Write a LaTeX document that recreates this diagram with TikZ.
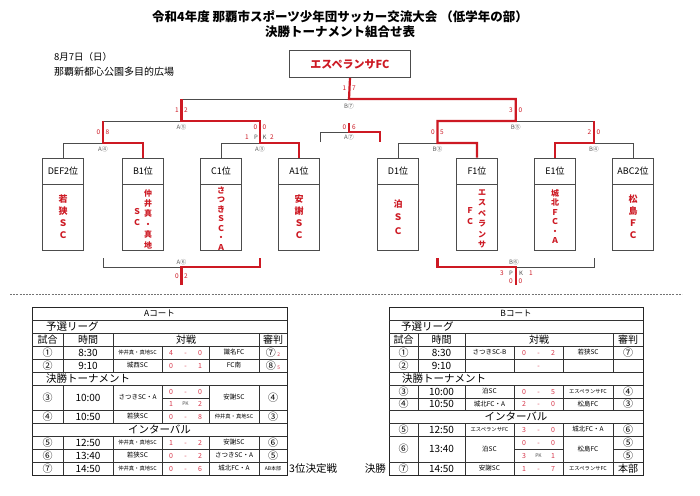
\documentclass[tikz,border=0pt]{standalone}
\usepackage{fontspec}
\setmainfont{Noto Sans CJK JP}
\definecolor{wred}{RGB}{205,25,35}
\definecolor{sred}{RGB}{215,55,75}
\newcommand\tsm{\fontsize{5.3}{5.3}\selectfont}
\newcommand\mrow[9]{%
 \node[num] (#1n) at (\ca,#2) {#3};
 \node[tm] (#1t) at (\cb,#2) {#4};
 \node[tn] (#1a) at (\cc,#2) {#5};
 \node[sr] (#1s) at ({\cd-14.5},#2) {#6};
 \node[sr] (#1d) at (\cd,#2) {-};
 \node[sr] (#1r) at ({\cd+14.5},#2) {#7};
 \node[tn] (#1b) at (\ce,#2) {#8};
 \node[num] (#1j) at (\cf,#2) {#9};}
\begin{document}
\begin{tikzpicture}[x=1pt,y=-1pt,
  blk/.style={draw=black!70, line width=0.7pt},
  win/.style={draw=wred, line width=2.2pt},
  lbl/.style={font=\fontsize{6}{6}\selectfont, text=black!65, inner sep=0pt},
  scr/.style={font=\fontsize{6.5}{6.5}\selectfont, text=wred, inner sep=0pt},
  pk/.style={font=\fontsize{6}{6}\selectfont, text=black!70, inner sep=0pt},
  hbox/.style={draw=black!70, line width=0.7pt, minimum width=41pt, minimum height=26pt, inner sep=0pt, font=\fontsize{9}{9}\selectfont},
  bbox/.style={draw=black!70, line width=0.7pt, minimum width=41pt, minimum height=66pt, inner sep=0pt},
  vt/.style={align=center, text=wred, inner sep=0pt},
  tbl/.style={draw=black!80, line width=0.6pt},
  tout/.style={draw=black!85, line width=1pt},
  num/.style={font=\fontsize{10}{10}\selectfont, inner sep=0pt},
  tm/.style={font=\fontsize{10}{10}\selectfont, inner sep=0pt},
  tn/.style={font=\fontsize{6.5}{6.5}\selectfont, inner sep=0pt},
  sr/.style={font=\fontsize{7}{7}\selectfont, text=sred, inner sep=0pt, text height=5pt, text depth=0pt},
  sec/.style={font=\fontsize{10.5}{10.5}\selectfont, inner sep=0pt},
  hd/.style={font=\fontsize{10}{10}\selectfont, inner sep=0pt},
  ct/.style={font=\fontsize{8.5}{8.5}\selectfont, inner sep=0pt}
]
\useasboundingbox[fill=white] (0,0) rectangle (700,495);

% titles
\node[font=\bfseries\fontsize{12.5}{12.5}\selectfont, inner sep=0pt] (title1) at (340,17) {令和4年度 那覇市スポーツ少年団サッカー交流大会 （低学年の部）};
\node[font=\bfseries\fontsize{12.5}{12.5}\selectfont, inner sep=0pt] (title2) at (340,32) {決勝トーナメント組合せ表};
\node[font=\fontsize{9.5}{9.5}\selectfont, inner sep=0pt, anchor=west] (date) at (54,57) {8月7日（日）};
\node[font=\fontsize{10}{10}\selectfont, inner sep=0pt, anchor=west] (venue) at (54,72) {那覇新都心公園多目的広場};

% champion
\node[draw=black!70, line width=0.7pt, minimum width=121pt, minimum height=27pt, inner sep=0pt, text=wred, font=\bfseries\fontsize{11}{11}\selectfont] (champ) at (350,64) {エスペランサFC};

% team boxes
\foreach \n/\x/\t in {b1/63/DEF2位, b2/143/B1位, b3/221/C1位, b4/299/A1位, b5/398/D1位, b6/477/F1位, b7/555/E1位, b8/633/ABC2位}{
  \node[hbox] (\n) at (\x,171) {\t};
  \node[bbox] (\n body) at (\x,217) {};
}
\node[vt, font=\bfseries\fontsize{9}{12}\selectfont] (v1) at (63,217) {若\\狭\\Ｓ\\Ｃ};
\node[vt, font=\bfseries\fontsize{8}{10.4}\selectfont] (v2r) at (148,219) {仲\\井\\真\\・\\真\\地};
\node[vt, font=\bfseries\fontsize{8}{10.4}\selectfont] (v2l) at (137,217) {Ｓ\\Ｃ};
\node[vt, font=\bfseries\fontsize{8}{9.5}\selectfont] (v3) at (221,218.5) {さ\\つ\\き\\Ｓ\\Ｃ\\・\\Ａ};
\node[vt, font=\bfseries\fontsize{9}{12}\selectfont] (v4) at (299,217) {安\\謝\\Ｓ\\Ｃ};
\node[vt, font=\bfseries\fontsize{9}{13.5}\selectfont] (v5) at (398,217) {泊\\Ｓ\\Ｃ};
\node[vt, font=\bfseries\fontsize{8}{10.4}\selectfont] (v6r) at (482,219) {エ\\ス\\ペ\\ラ\\ン\\サ};
\node[vt, font=\bfseries\fontsize{8}{10.4}\selectfont] (v6l) at (470,216) {Ｆ\\Ｃ};
\node[vt, font=\bfseries\fontsize{8}{9.4}\selectfont] (v7) at (555,216.5) {城\\北\\Ｆ\\Ｃ\\・\\Ａ};
\node[vt, font=\bfseries\fontsize{9}{12}\selectfont] (v8) at (633,217) {松\\島\\Ｆ\\Ｃ};

% bracket coordinates
\coordinate (fin) at (349,99);
\coordinate (finL) at (181.5,99);
\coordinate (finR) at (515.75,99);
\coordinate (sA) at (181.5,121);
\coordinate (sAL) at (103,121);
\coordinate (sAR) at (260,121);
\coordinate (sB) at (515.75,121);
\coordinate (sBL) at (437.5,121);
\coordinate (sBR) at (594,121);
\coordinate (qA4) at (103,143);
\coordinate (qA3) at (260,143);
\coordinate (qB3) at (437.5,143);
\coordinate (qB4) at (594,143);

% losing paths
\draw[blk] (finL) -- (fin);
\draw[blk] (sAL) -- (sA);
\draw[blk] (b1.north) |- (qA4);
\draw[blk] (b3.north) |- (qA3);
\draw[blk] (sB) -- (sBR);
\draw[blk] (b5.north) |- (qB3);
\draw[blk] (b8.north) |- (qB4);
% winning paths
\draw[win] (champ.south) -- (fin) -- (finR) -- (sB) -- (sBL) -- (qB3) -| (b6.north);
\draw[win] (finL) -- (sA) -- (sAR) -- (qA3) -| (b4.north);
\draw[win] (sAL) -- (qA4) -| (b2.north);
\draw[win] (sBR) -- (qB4) -| (b7.north);

% third place mini bracket
\coordinate (t) at (349,132);
\coordinate (tT) at (349,123);
\coordinate (tL) at (320,142);
\coordinate (tR) at (380,142);
\draw[blk] (tL) |- (t);
\draw[win] (tT) -- (t) -| (tR);

% bracket labels
\node[scr] (f1) at (344.5,88) {1};
\node[scr] (f2) at (354,88) {7};
\node[lbl] (lB7) at (349,106) {B⑦};
\node[scr] (a51) at (177,110) {1};
\node[scr] (a52) at (186,110) {2};
\node[scr] (b51) at (511,110) {3};
\node[scr] (b52) at (520.5,110) {0};
\node[lbl] (lA5) at (181.5,127) {A⑤};
\node[lbl] (lB5) at (515.75,127) {B⑤};
\node[scr] (a41) at (98.5,132) {0};
\node[scr] (a42) at (107.5,132) {8};
\node[scr] (a31) at (255.5,127) {0};
\node[scr] (a32) at (264.5,127) {0};
\node[scr] (a3p1) at (247,137) {1};
\node[pk] (a3pp) at (256,137) {P};
\node[pk] (a3pk) at (264.5,137) {K};
\node[scr] (a3p2) at (272,137) {2};
\node[scr] (b31) at (433,132) {0};
\node[scr] (b32) at (442,132) {5};
\node[scr] (b41) at (589.5,132) {2};
\node[scr] (b42) at (598.5,132) {0};
\node[scr] (a71) at (344.5,127) {0};
\node[scr] (a72) at (354,127) {6};
\node[lbl] (lA7) at (349,137.5) {A⑦};
\node[lbl] (lA4) at (103,149) {A④};
\node[lbl] (lA3) at (260,149) {A③};
\node[lbl] (lB3) at (437.5,149) {B③};
\node[lbl] (lB4) at (594,149) {B④};

% bottom brackets
\coordinate (a6) at (181.5,267);
\coordinate (a6L) at (103,258);
\coordinate (a6R) at (260,258);
\coordinate (a6D) at (181.5,285);
\draw[blk] (a6L) |- (a6);
\draw[win] (a6D) -- (a6) -| (a6R);
\node[lbl] (lA6) at (181.5,262) {A⑥};
\node[scr] (a61) at (177,276) {0};
\node[scr] (a62) at (186,276) {2};

\coordinate (b6c) at (515.75,267);
\coordinate (b6L) at (437.5,258);
\coordinate (b6R) at (594,258);
\coordinate (b6D) at (515.75,285);
\draw[blk] (b6R) |- (b6c);
\draw[win] (b6D) -- (b6c) -| (b6L);
\node[lbl] (lB6) at (514,262) {B⑥};
\node[scr] (b6p1) at (502,273) {3};
\node[pk] (b6pp) at (511,273) {P};
\node[pk] (b6pk) at (521,273) {K};
\node[scr] (b6p2) at (531,273) {1};
\node[scr] (b61) at (511,281) {0};
\node[scr] (b62) at (520.5,281) {0};

% separator
\coordinate (dotL) at (10,294);
\coordinate (dotR) at (682,294);
\draw[black!55, line width=0.8pt, dash pattern=on 2pt off 1.2pt] (dotL) -- (dotR);

% ===== A table =====
\draw[tout] (32,307) rectangle (287,475);
\foreach \y in {320,333,346,359,372,385,410,423,436,449,462} \draw[tbl] (32,\y) -- (287,\y);
\draw[tbl] (162,398) -- (209,398);
\foreach \x in {63,113,259} \draw[tbl] (\x,333) -- (\x,346);
\foreach \x in {63,113,162,209,259} {
  \draw[tbl] (\x,346) -- (\x,372);
  \draw[tbl] (\x,385) -- (\x,423);
  \draw[tbl] (\x,436) -- (\x,475);
}
\def\ca{47.5}\def\cb{88}\def\cc{137.5}\def\cd{185.5}\def\ce{234}\def\cf{273}
\node[ct] (Attl) at (159.5,313.5) {Aコート};
\node[sec, anchor=west] (Ayo) at (46,326.5) {予選リーグ};
\node[hd] (Ah1) at (\ca,339.5) {試合};
\node[hd] (Ah2) at (\cb,339.5) {時間};
\node[hd] (Ah3) at (186,339.5) {対戦};
\node[hd] (Ah4) at (\cf,339.5) {審判};
\mrow{A1}{352.5}{①}{8:30}{\tsm 仲井真・真地SC}{4}{0}{識名FC}{⑦\,{\color{sred}\fontsize{5}{5}\selectfont 2}}
\mrow{A2}{365.5}{②}{9:10}{城西SC}{0}{1}{FC南}{⑧\,{\color{sred}\fontsize{5}{5}\selectfont 5}}
\node[sec, anchor=west] (Ake) at (46,378.5) {決勝トーナメント};
\node[num] (A3n) at (\ca,397.5) {③};
\node[tm] (A3t) at (\cb,397.5) {10:00};
\node[tn] (A3a) at (\cc,397.5) {さつきSC・A};
\node[sr] (A3s) at ({\cd-14.5},391.5) {0};
\node[sr] (A3d) at (\cd,391.5) {-};
\node[sr] (A3r) at ({\cd+14.5},391.5) {0};
\node[sr] (A3ps) at ({\cd-14.5},404) {1};
\node[pk, font=\fontsize{5}{5}\selectfont] (A3pk) at (\cd,404) {PK};
\node[sr] (A3pr) at ({\cd+14.5},404) {2};
\node[tn] (A3b) at (\ce,397.5) {安謝SC};
\node[num] (A3j) at (\cf,397.5) {④};
\mrow{A4}{416.5}{④}{10:50}{若狭SC}{0}{8}{\tsm 仲井真・真地SC}{③}
\node[sec] (Ain) at (159.5,429.5) {インターバル};
\mrow{A5}{442.5}{⑤}{12:50}{\tsm 仲井真・真地SC}{1}{2}{安謝SC}{⑥}
\mrow{A6}{455.5}{⑥}{13:40}{若狭SC}{0}{2}{さつきSC・A}{⑤}
\mrow{A7}{468.5}{⑦}{14:50}{\tsm 仲井真・真地SC}{0}{6}{城北FC・A}{\fontsize{5}{5}\selectfont AB本部}
\node[font=\fontsize{10.5}{10.5}\selectfont, inner sep=0pt, anchor=west] (third) at (289,468.5) {3位決定戦};

% ===== B table =====
\draw[tout] (389,307) rectangle (643,475);
\foreach \y in {320,333,346,359,372,385,398,410,423,436,462} \draw[tbl] (389,\y) -- (643,\y);
\draw[tbl] (514,449) -- (563,449);
\draw[tbl] (613,449) -- (643,449);
\foreach \x in {418,465,613} \draw[tbl] (\x,333) -- (\x,346);
\foreach \x in {418,465,514,563,613} {
  \draw[tbl] (\x,346) -- (\x,372);
  \draw[tbl] (\x,385) -- (\x,410);
  \draw[tbl] (\x,423) -- (\x,475);
}
\def\ca{403.5}\def\cb{441.5}\def\cc{489.5}\def\cd{538.5}\def\ce{588}\def\cf{628}
\node[ct] (Bttl) at (516,313.5) {Bコート};
\node[sec, anchor=west] (Byo) at (401,326.5) {予選リーグ};
\node[hd] (Bh1) at (\ca,339.5) {試合};
\node[hd] (Bh2) at (\cb,339.5) {時間};
\node[hd] (Bh3) at (539,339.5) {対戦};
\node[hd] (Bh4) at (\cf,339.5) {審判};
\mrow{B1}{352.5}{①}{8:30}{さつきSC-B}{0}{2}{若狭SC}{⑦}
\node[num] (B2n) at (\ca,365.5) {②};
\node[tm] (B2t) at (\cb,365.5) {9:10};
\node[sr] (B2d) at (\cd,365.5) {-};
\node[sec, anchor=west] (Bke) at (402,378.5) {決勝トーナメント};
\mrow{B3}{391.5}{③}{10:00}{泊SC}{0}{5}{\tsm エスペランサFC}{④}
\mrow{B4}{404}{④}{10:50}{城北FC・A}{2}{0}{松島FC}{③}
\node[sec] (Bin) at (516,416.5) {インターバル};
\mrow{B5}{429.5}{⑤}{12:50}{\tsm エスペランサFC}{3}{0}{城北FC・A}{⑥}
\node[num] (B6n) at (\ca,449) {⑥};
\node[tm] (B6t) at (\cb,449) {13:40};
\node[tn] (B6a) at (\cc,449) {泊SC};
\node[sr] (B6s) at ({\cd-14.5},442.5) {0};
\node[sr] (B6d) at (\cd,442.5) {-};
\node[sr] (B6r) at ({\cd+14.5},442.5) {0};
\node[sr] (B6ps) at ({\cd-14.5},455.5) {3};
\node[pk, font=\fontsize{5}{5}\selectfont] (B6pk) at (\cd,455.5) {PK};
\node[sr] (B6pr) at ({\cd+14.5},455.5) {1};
\node[tn] (B6b) at (\ce,449) {松島FC};
\node[num] (B6j1) at (\cf,442.5) {⑤};
\node[num] (B6j2) at (\cf,455.5) {⑤};
\mrow{B7}{468.5}{⑦}{14:50}{安謝SC}{1}{7}{\tsm エスペランサFC}{本部}
\node[font=\fontsize{10.5}{10.5}\selectfont, inner sep=0pt, anchor=east] (final) at (386,468.5) {決勝};
\end{tikzpicture}
\end{document}
